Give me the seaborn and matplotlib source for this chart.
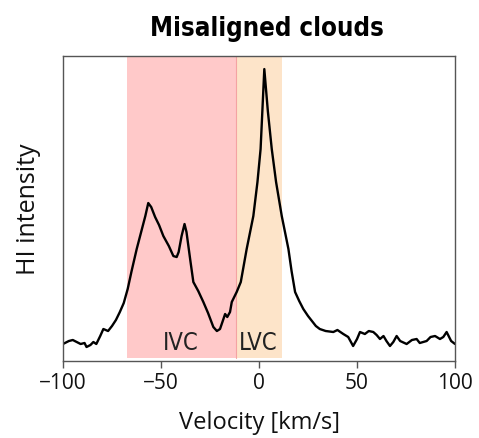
import matplotlib
matplotlib.use("Agg")
import matplotlib.pyplot as plt
import seaborn as sns
import pandas as pd

velocity = [-100, -98, -97, -95, -93, -91, -89, -88, -86, -84.5, -83, -81, -79.4, -77, -75, -73, -71,
            -69, -67, -65, -62.4, -60, -58, -56.5, -55, -53, -51, -48.8, -46, -43.7, -42, -41, -39.5,
            -38, -37, -35, -33.5, -31, -28.4, -26, -23.3, -21.5, -19.9, -18.5, -17.3, -16.2, -14.8, -13.9,
            -11.4, -9.3, -6.3, -2.9, -0.8, 0.8, 2.7, 4.5, 6.5, 8.7, 11.6, 15, 16.6, 18.4,
            20.5, 22.6, 25, 27, 29, 31, 34, 37.9, 40, 43, 45.5, 48, 50, 51.5, 54, 56, 58.3, 60, 61.7,
            63.5, 65, 66.8, 68.5, 70.2, 72, 75.3, 78, 80.4, 82, 85.5, 87.5, 89.8, 92.3, 94, 95.7, 98, 100]
intensity = [17, 19, 20, 21, 19, 17, 18, 14, 16, 19, 17, 25, 32, 30, 35, 41, 49,
             58, 72, 90, 112, 130, 145, 158, 154, 144, 136, 125, 115, 105, 104, 109, 125,
             137, 129, 100, 79, 70, 59, 48, 34, 30, 32, 40, 47, 44, 49, 59,
             69, 79, 112, 145, 179, 212, 292, 250, 212, 179, 145, 112, 90, 69,
             60, 52, 45, 40, 35, 32, 30, 29, 31, 27, 24, 15, 22, 29, 27, 30, 29, 26, 22,
             25, 20, 15, 19, 25, 20, 17, 21, 22, 18, 20, 24, 25, 22, 24, 29, 20, 17]

xticks = [-100, -50, 0, 50, 100]
ivc_range = [-67.3, -11.7]
lvc_range = [-11.7, 11.7]

df = pd.DataFrame({"Velocity": velocity, "Intensity": intensity})

sns.set_style("ticks")
plt.rcParams['font.family'] = ['Open Sans', 'DejaVu Sans']

fig = plt.figure(figsize=(4.79, 4.39), dpi=100)
ax = fig.add_axes([0.1315, 0.1754, 0.8185, 0.6946])

ax.axvspan(ivc_range[0], ivc_range[1], ymin=0.01, ymax=1, color='#ffc9c9', lw=0)
ax.axvline(ivc_range[1], color='#f4a3a3', lw=0.8, ymin=0.01)
ax.axvspan(lvc_range[0], lvc_range[1], ymin=0.01, ymax=1, color='#fde4c9', lw=0)

sns.lineplot(data=df, x="Velocity", y="Intensity", ax=ax, color='black', lw=1.7)

ax.text(-40, 12, "IVC", ha='center', va='baseline', fontsize=17, color='#222222',
        family='DejaVu Sans', fontstretch='condensed')
ax.text(-0.5, 12, "LVC", ha='center', va='baseline', fontsize=17, color='#222222',
        family='DejaVu Sans', fontstretch='condensed')

ax.set_xlim(-100, 100)
ax.set_ylim(0, 305)
ax.set_xticks(xticks)
ax.set_xticklabels(["\u2212100", "\u221250", "0", "50", "100"])
ax.set_yticks([])
ax.tick_params(axis='x', labelsize=15, length=5, width=1, color='#555555', pad=3,
               labelcolor='#111111')
for s in ax.spines.values():
    s.set_color('#555555')
    s.set_linewidth(1.0)

ax.set_xlabel("Velocity [km/s]", fontsize=17, labelpad=12, color='#111111')
ax.set_ylabel("HI intensity", fontsize=18, labelpad=16, color='#111111')
ax.set_title("Misaligned clouds", fontsize=18.5, fontweight='bold', pad=15, x=0.52,
             family='DejaVu Sans', fontstretch='condensed', color='black')

fig.savefig("out.png", dpi=100)
